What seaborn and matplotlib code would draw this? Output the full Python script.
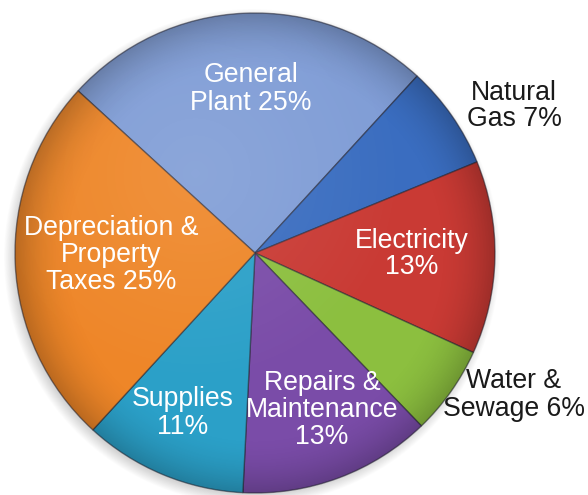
import matplotlib
matplotlib.use("Agg")
import matplotlib.pyplot as plt
import numpy as np
import seaborn as sns

# Annual operating costs by category (percent of total)
categories = ["General\nPlant", "Natural\nGas", "Electricity\n", "Water &\nSewage",
              "Repairs &\nMaintenance\n", "Supplies\n", "Depreciation &\nProperty\nTaxes"]
shares = [25, 7, 13, 6, 13, 11, 25]
colors = ["#809DD6", "#3A6DC0", "#C93A34", "#8CBF3F", "#7A4CA8", "#2BA0C8", "#EE8628"]

sns.set_theme(style="white")
plt.rcParams["font.family"] = ["Liberation Sans", "DejaVu Sans"]

W, H = 588, 495
fig = plt.figure(figsize=(W / 100, H / 100), dpi=100)
ax = fig.add_axes([0, 0, 1, 1])

cx, cy, r = 255, H - 253, 240

# soft drop shadow under the pie
for k in range(14):
    ax.add_patch(plt.Circle((cx - 3, cy - 4), r + 8 - k * 0.8,
                            color="black", alpha=0.012, lw=0, zorder=0))

wedges, _ = ax.pie(shares, colors=colors, startangle=137.5, counterclock=False,
                   center=(cx, cy), radius=r, frame=True,
                   wedgeprops=dict(edgecolor=(0.15, 0.15, 0.2, 0.55), linewidth=1.0))

# radial shading for a rounded look
yy, xx = np.mgrid[0:H, 0:W]
d = np.hypot(xx - cx, (H - yy) - cy) / r
shade = np.zeros((H, W, 4))
shade[..., 3] = np.clip((d - 0.75) / 0.25, 0, 1) ** 2 * 0.22
img = ax.imshow(shade, extent=(0, W, 0, H), origin="upper", zorder=3)
img.set_clip_path(plt.Circle((cx, cy), r, transform=ax.transData))
hi = np.ones((H, W, 4))
hi[..., 3] = np.clip(1 - np.hypot(xx - (cx - 60), (H - yy) - (cy + 80)) / (r * 0.9), 0, 1) * 0.10
img2 = ax.imshow(hi, extent=(0, W, 0, H), origin="upper", zorder=3)
img2.set_clip_path(plt.Circle((cx, cy), r, transform=ax.transData))

ax.set_xlim(0, W)
ax.set_ylim(0, H)
ax.set_aspect("equal")
ax.set_axis_off()

# label anchors (pixel layout) and text colours
label_pos = [(251, 89), (514, 106), (412, 254), (514, 395), (322, 410), (183, 413), (111, 255)]
label_col = ["white", "#1a1a1a", "white", "#1a1a1a", "white", "white", "white"]

for name, val, (x, y), c in zip(categories, shares, label_pos, label_col):
    text = f"{name}{val}%" if name.endswith("\n") else f"{name} {val}%"
    ax.text(x, H - y, text, ha="center", va="center", fontsize=19.2, color=c,
            linespacing=1.05, zorder=5)

fig.savefig("out.png", dpi=100)
